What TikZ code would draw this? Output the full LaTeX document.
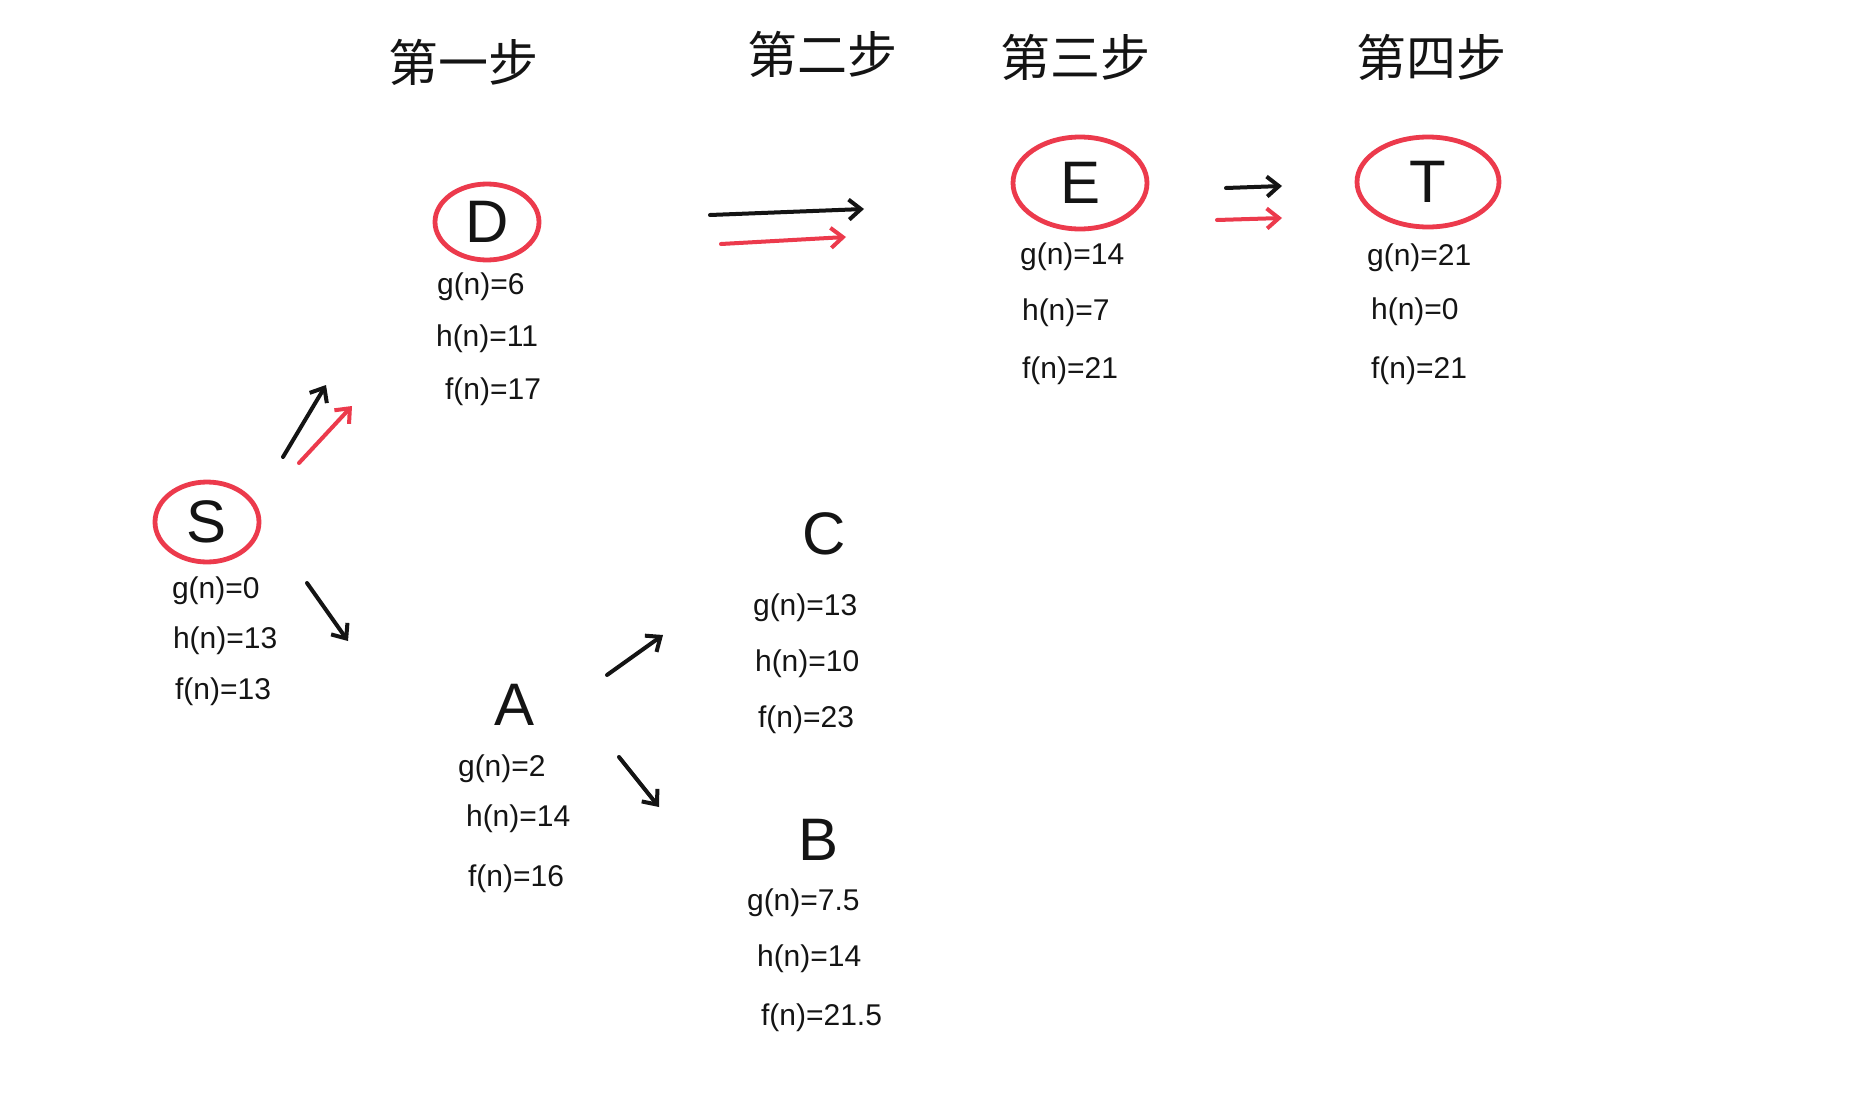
\documentclass[tikz,border=0pt]{standalone}
\usepackage{fontspec}
\setmainfont{Liberation Sans}
\newfontfamily\cjk{Noto Sans CJK SC}
\usetikzlibrary{shapes.geometric,arrows.meta}
\definecolor{pen}{RGB}{20,20,20}
\definecolor{redpen}{RGB}{236,58,76}
\tikzset{
  x=0.5pt, y=-0.5pt,
  title/.style={font=\cjk\fontsize{25}{29}\selectfont, text=pen},
  big/.style={font=\fontsize{30}{34}\selectfont, text=pen},
  lab/.style={font=\fontsize{15}{18}\selectfont, text=pen, anchor=west},
  ring/.style={ellipse, draw=redpen, line width=2.4pt, font=\fontsize{30}{34}\selectfont, text=pen, inner sep=0pt},
  blackarrow/.style={draw=pen, line width=2pt, line cap=round, -{Straight Barb[length=6pt,width=10pt,line width=2pt]}},
  redarrow/.style={draw=redpen, line width=2pt, line cap=round, -{Straight Barb[length=6pt,width=10pt,line width=2pt]}},
}
\begin{document}
\begin{tikzpicture}
\useasboundingbox[fill=white] (0,0) rectangle (1873,1103);

% step titles
\node[title] (t1) at (463,62) {第一步};
\node[title] (t2) at (822,54) {第二步};
\node[title] (t3) at (1075,57) {第三步};
\node[title] (t4) at (1431,57) {第四步};

% circled nodes
\node[ring, minimum width=52pt, minimum height=40pt] (S) at (207,522) {S};
\node[ring, minimum width=52pt, minimum height=38pt] (D) at (487,222) {D};
\node[ring, minimum width=67pt, minimum height=46pt] (E) at (1080,183) {E};
\node[ring, minimum width=71pt, minimum height=45pt] (T) at (1428,182) {T};

% plain nodes
\node[big] (A) at (515,705) {A};
\node[big] (C) at (824,534) {C};
\node[big] (B) at (818,840) {B};

% labels S
\node[lab] (Sg) at (165,591) {g(n)=0};
\node[lab] (Sh) at (166,641) {h(n)=13};
\node[lab] (Sf) at (168,692) {f(n)=13};
% labels D
\node[lab] (Dg) at (430,287) {g(n)=6};
\node[lab] (Dh) at (429,339) {h(n)=11};
\node[lab] (Df) at (438,392) {f(n)=17};
% labels E
\node[lab] (Eg) at (1013,257) {g(n)=14};
\node[lab] (Eh) at (1015,313) {h(n)=7};
\node[lab] (Ef) at (1015,371) {f(n)=21};
% labels T
\node[lab] (Tg) at (1360,258) {g(n)=21};
\node[lab] (Th) at (1364,312) {h(n)=0};
\node[lab] (Tf) at (1364,371) {f(n)=21};
% labels A
\node[lab] (Ag) at (451,769) {g(n)=2};
\node[lab] (Ah) at (459,819) {h(n)=14};
\node[lab] (Af) at (461,879) {f(n)=16};
% labels C
\node[lab] (Cg) at (746,608) {g(n)=13};
\node[lab] (Ch) at (748,664) {h(n)=10};
\node[lab] (Cf) at (751,720) {f(n)=23};
% labels B
\node[lab] (Bg) at (740,903) {g(n)=7.5};
\node[lab] (Bh) at (750,959) {h(n)=14};
\node[lab] (Bf) at (754,1018) {f(n)=21.5};

% arrow end coordinates
\coordinate (sd1a) at (283,457); \coordinate (sd1b) at (326,385);
\coordinate (sd2a) at (299,463); \coordinate (sd2b) at (352,406);
\coordinate (saa) at (307,583); \coordinate (sab) at (348,641);
\coordinate (aca) at (607,675); \coordinate (acb) at (663,635);
\coordinate (aba) at (619,757); \coordinate (abb) at (659,807);
\coordinate (de1a) at (710,215); \coordinate (de1b) at (864,209);
\coordinate (de2a) at (721,244); \coordinate (de2b) at (846,237);
\coordinate (et1a) at (1226,188); \coordinate (et1b) at (1282,186);
\coordinate (et2a) at (1217,220); \coordinate (et2b) at (1282,218);

\draw[blackarrow] (sd1a) -- (sd1b);
\draw[redarrow] (sd2a) -- (sd2b);
\draw[blackarrow] (saa) -- (sab);
\draw[blackarrow] (aca) -- (acb);
\draw[blackarrow] (aba) -- (abb);
\draw[blackarrow] (de1a) -- (de1b);
\draw[redarrow] (de2a) -- (de2b);
\draw[blackarrow] (et1a) -- (et1b);
\draw[redarrow] (et2a) -- (et2b);
\end{tikzpicture}
\end{document}
